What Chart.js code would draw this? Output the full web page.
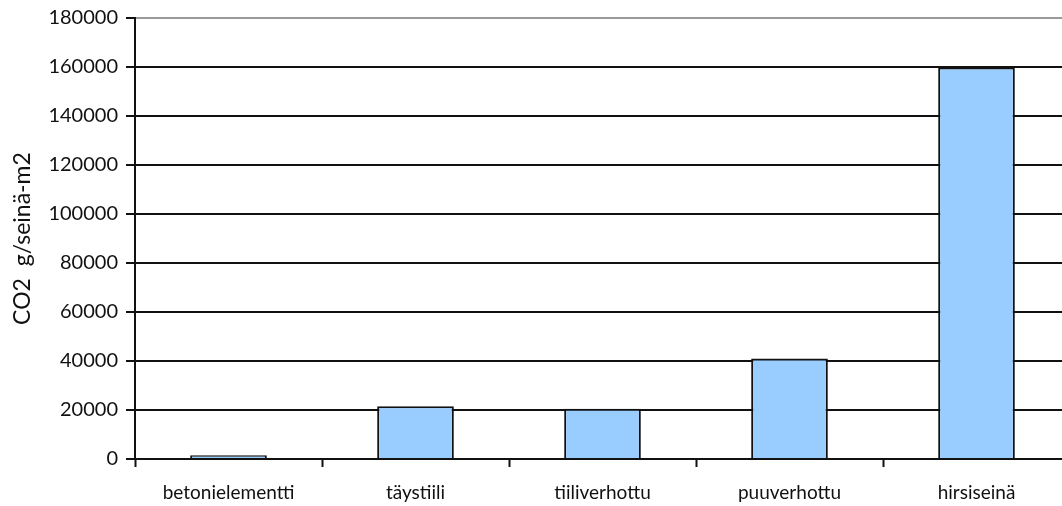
<!DOCTYPE html>
<html>
<head>
<meta charset="utf-8">
<script src="https://cdn.jsdelivr.net/npm/chart.js@4/dist/chart.umd.min.js"></script>
<style>
    html, body { margin: 0; padding: 0; background: #fff; overflow: hidden; }
    #wrap { position: absolute; left: 0; top: 0; width: 1080px; height: 506px; }
</style>
</head>
<body>
<div id="wrap"><canvas id="myChart"></canvas></div>
<script>
    "use strict";

    // wall types and CO2 per wall square metre
    var wallTypes = ['betonielementti', 'täystiili', 'tiiliverhottu', 'puuverhottu', 'hirsiseinä'];
    var co2Values = [1500, 21500, 20500, 41000, 159800];
    var yTicks = [0, 20000, 40000, 60000, 80000, 100000, 120000, 140000, 160000, 180000];

    var fontFamily = 'Lato, "Open Sans", sans-serif';
    Chart.defaults.font.family = fontFamily;
    Chart.defaults.color = '#111';

    var ctx = document.getElementById('myChart').getContext('2d');
    var chart = new Chart(ctx, {
        type: 'bar',
        data: {
            labels: wallTypes,
            datasets: [{
                label: 'CO2',
                data: co2Values,
                backgroundColor: '#99ccff',
                borderColor: '#111',
                borderWidth: 2,
                categoryPercentage: 1,
                barPercentage: 0.41
            }]
        },
        options: {
            responsive: true,
            maintainAspectRatio: false,
            animation: false,
            layout: {
                padding: { left: 0, top: 17, right: 10, bottom: 0 }
            },
            plugins: {
                legend: { display: false },
                tooltip: { enabled: false }
            },
            scales: {
                x: {
                    offset: true,
                    grid: {
                        offset: true,
                        drawOnChartArea: false,
                        drawTicks: true,
                        tickLength: 8,
                        tickWidth: 2,
                        tickColor: '#111'
                    },
                    border: { color: '#111', width: 2 },
                    ticks: {
                        padding: 14,
                        maxRotation: 0,
                        font: { size: 19 }
                    },
                    afterFit: function (scale) { scale.height = 47; }
                },
                y: {
                    min: 0,
                    max: 180000,
                    afterBuildTicks: function (scale) {
                        scale.ticks = yTicks.map(function (v) { return { value: v }; });
                    },
                    grid: {
                        color: function (c) {
                            return c.tick && c.tick.value === 180000 ? '#9a9a9a' : '#111';
                        },
                        lineWidth: 2,
                        tickLength: 9,
                        tickColor: '#111'
                    },
                    border: { color: '#111', width: 2 },
                    ticks: {
                        padding: 8,
                        font: { size: 20, lineHeight: 1 },
                        callback: function (v) { return String(v); }
                    },
                    title: {
                        display: true,
                        text: 'CO2  g/seinä-m2',
                        font: { size: 23 },
                        padding: { top: 9, bottom: 0 }
                    },
                    afterFit: function (scale) { scale.width = 135; }
                }
            }
        }
    });
</script>
</body>
</html>
